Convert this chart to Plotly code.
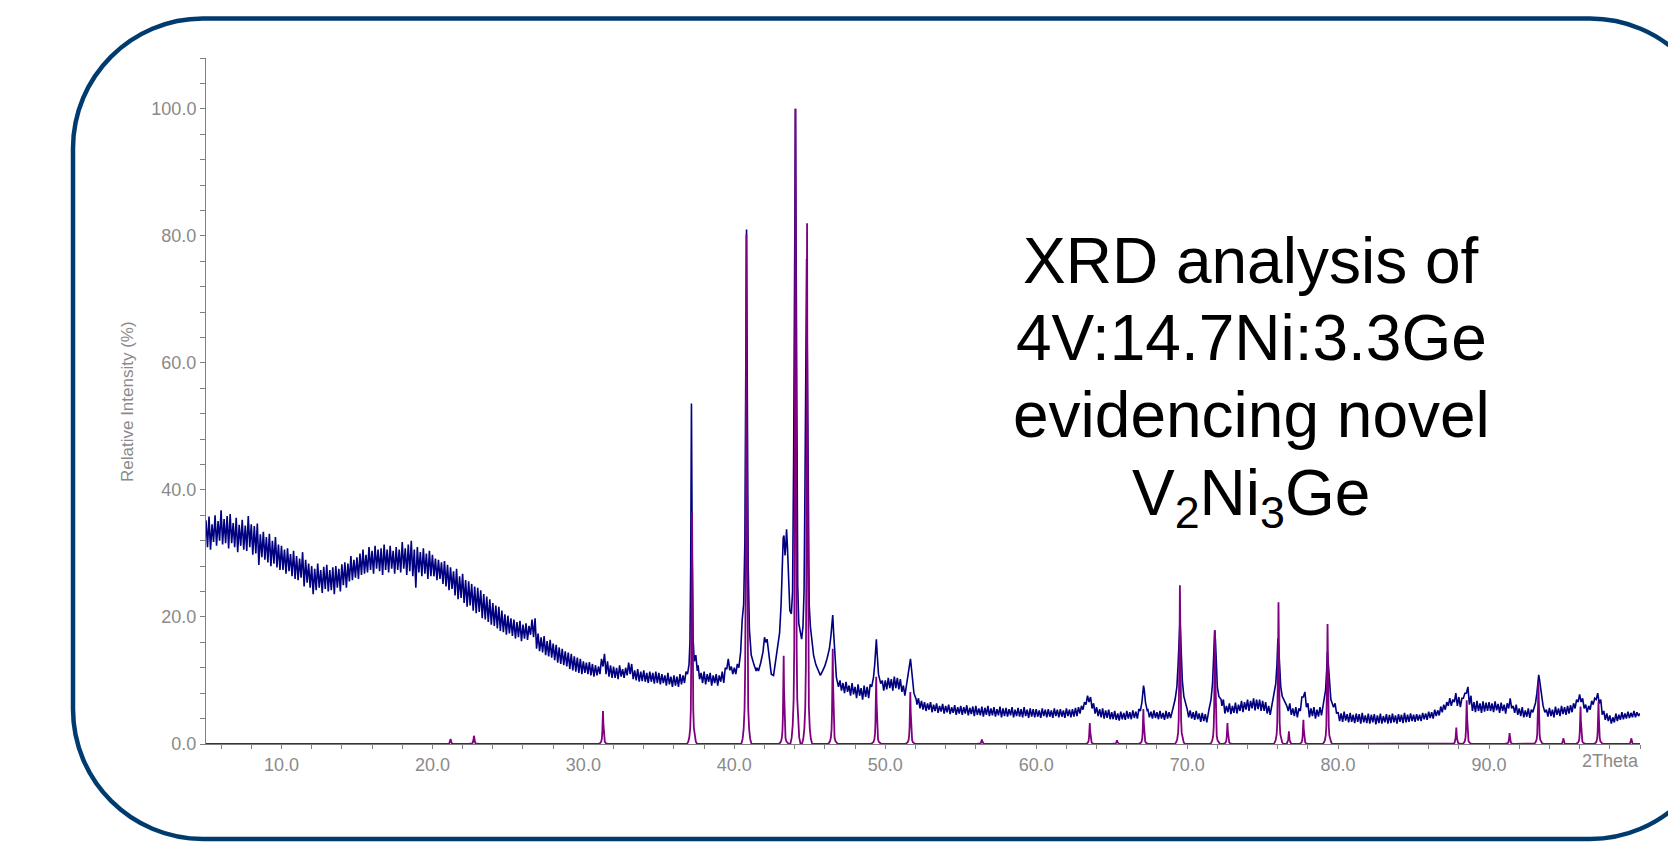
import plotly.graph_objects as go

# ---------------- data ----------------
# measured scan (navy): the noisy background is read as upper-edge readings at
# 5.0, 5.2, ... and lower-edge readings at 5.1, 5.3, ... (each row spans 5 deg)
scan_start = 5.0
scan_step = 0.2
lo_offset = 0.1
navy_hi_05 = [35.2, 35.8, 34.6, 36.0, 35.1, 36.8, 35.4, 35.9, 36.2, 34.8, 35.6, 34.5, 35.3, 34.4, 35.9, 34.6, 34.3, 34.7, 33.0, 33.4, 32.6, 33.1, 32.0, 32.6, 31.4]
navy_hi_10 = [31.2, 30.6, 30.8, 29.9, 30.4, 29.6, 29.2, 30.2, 29.0, 28.4, 28.0, 27.6, 28.4, 27.4, 27.9, 28.2, 27.4, 27.8, 28.0, 27.6, 28.3, 28.6, 28.4, 29.6, 29.0]
navy_hi_15 = [29.4, 30.0, 30.6, 29.8, 31.0, 30.4, 31.2, 30.6, 30.8, 31.4, 30.6, 31.2, 30.4, 31.0, 30.6, 31.8, 30.8, 31.4, 32.0, 30.6, 31.0, 30.2, 30.8, 30.0, 30.4]
navy_hi_20 = [29.8, 29.2, 29.0, 28.6, 28.8, 28.2, 27.8, 27.2, 27.6, 26.4, 26.8, 25.8, 25.6, 25.2, 24.8, 24.6, 24.2, 23.6, 23.2, 22.8, 22.2, 21.8, 21.6, 21.0, 20.4]
navy_hi_25 = [20.2, 19.8, 19.6, 19.2, 19.4, 18.8, 19.0, 18.6, 19.6, 19.8, 17.4, 16.8, 17.0, 16.2, 16.4, 15.8, 15.6, 15.2, 15.0, 14.6, 14.4, 14.2, 13.8, 13.6, 13.4]
navy_hi_30 = [13.0, 12.8, 12.9, 12.6, 12.4, 12.2, 13.4, 14.2, 13.0, 12.4, 12.2, 12.0, 12.4, 11.8, 12.0, 12.8, 12.6, 11.6, 11.8, 11.4, 11.6, 11.2, 11.4, 11.2, 11.4]
navy_hi_35 = [11.2, 11.0, 10.8, 11.2, 10.6, 10.8, 10.6, 11.0, 10.8, 11.4, 12.5, 45.0, 13.0, 12.4, 11.2, 11.4, 11.0, 11.2, 10.8, 11.0, 10.8, 11.4, 12.0, 13.4, 12.2]
navy_hi_40 = [12.0, 12.6, 14.0, 20.0, 60.0, 18.0, 13.0, 12.0, 12.0, 14.0, 16.5, 15.0, 11.0, 11.0, 14.0, 17.5, 28.0, 31.0, 27.0, 20.5, 70.0, 30.0, 18.0, 20.0, 70.0]
navy_hi_45 = [18.5, 15.0, 12.5, 11.5, 11.0, 12.3, 14.0, 17.0, 18.0, 10.5, 10.0, 9.6, 9.8, 9.2, 9.6, 9.0, 9.4, 8.8, 9.2, 9.0, 9.4, 10.5, 16.0, 11.0, 10.0]
navy_hi_50 = [10.0, 10.4, 10.2, 10.6, 10.4, 10.2, 9.2, 9.5, 12.5, 10.0, 7.5, 7.2, 6.8, 6.6, 6.4, 6.6, 6.2, 6.4, 6.0, 6.3, 6.0, 6.2, 5.8, 6.1, 5.8]
navy_hi_55 = [6.0, 5.8, 6.1, 5.7, 5.9, 6.0, 5.6, 5.9, 5.7, 6.0, 5.6, 5.8, 5.5, 5.9, 5.6, 5.7, 5.5, 5.8, 5.4, 5.7, 5.5, 5.8, 5.4, 5.6, 5.5]
navy_hi_60 = [5.5, 5.3, 5.6, 5.4, 5.5, 5.3, 5.6, 5.4, 5.5, 5.3, 5.6, 5.4, 5.5, 5.7, 5.8, 6.0, 6.6, 7.6, 7.4, 6.4, 5.8, 5.5, 5.6, 5.3, 5.4]
navy_hi_65 = [5.0, 5.2, 4.8, 5.1, 4.9, 5.2, 5.0, 5.3, 5.1, 5.5, 6.5, 7.5, 5.4, 5.1, 5.3, 5.0, 5.2, 4.9, 5.2, 5.0, 5.4, 7.0, 12.0, 15.0, 7.0]
navy_hi_70 = [5.5, 5.3, 5.0, 5.2, 4.8, 4.9, 4.7, 5.0, 7.0, 17.0, 9.0, 7.0, 7.0, 6.0, 6.4, 6.0, 6.5, 6.2, 6.8, 6.6, 7.0, 6.8, 7.2, 7.0, 7.0]
navy_hi_75 = [6.8, 6.6, 6.0, 6.0, 9.5, 16.0, 9.0, 7.0, 6.2, 6.4, 5.6, 5.8, 5.6, 7.4, 8.2, 6.4, 5.6, 5.8, 5.4, 5.8, 6.8, 11.0, 13.0, 7.0, 6.4]
navy_hi_80 = [5.0, 4.8, 5.1, 4.7, 4.9, 4.6, 4.8, 4.7, 4.9, 4.5, 4.8, 4.6, 4.7, 4.5, 4.8, 4.4, 4.7, 4.6, 4.8, 4.5, 4.7, 4.6, 4.9, 4.6, 4.8]
navy_hi_85 = [4.6, 4.7, 4.6, 4.9, 4.8, 5.1, 5.0, 5.4, 5.3, 5.9, 6.2, 6.6, 7.2, 7.0, 8.0, 7.4, 7.2, 8.0, 9.0, 7.6, 6.6, 6.8, 6.4, 6.7, 6.5]
navy_hi_90 = [6.6, 6.4, 6.7, 6.3, 6.5, 6.2, 6.4, 7.2, 6.0, 6.2, 5.6, 5.8, 5.3, 5.6, 5.4, 6.5, 9.5, 8.0, 6.0, 5.4, 5.7, 5.4, 5.9, 5.6, 6.0]
navy_hi_95 = [5.8, 6.0, 6.1, 6.4, 7.0, 7.8, 7.2, 6.2, 6.0, 6.8, 7.2, 8.0, 7.0, 5.2, 4.8, 4.5, 4.2, 4.8, 4.6, 5.0, 4.8, 5.1, 4.9, 5.2, 5.0]
navy_hi_100 = [4.8]

navy_lo_05 = [31.0, 30.6, 31.8, 31.2, 32.0, 31.4, 31.6, 30.8, 31.6, 31.0, 30.2, 31.2, 30.6, 30.4, 31.0, 29.8, 30.0, 28.2, 29.4, 29.0, 28.6, 28.0, 28.4, 27.8, 27.4]
navy_lo_10 = [27.4, 26.8, 27.2, 26.4, 26.0, 25.8, 26.2, 24.8, 25.4, 24.6, 23.6, 24.2, 24.6, 23.8, 24.4, 24.0, 24.2, 23.6, 24.6, 24.0, 25.0, 24.6, 25.6, 25.8, 26.2]
navy_lo_15 = [26.0, 26.6, 26.8, 27.0, 27.4, 26.8, 27.6, 27.2, 26.6, 27.4, 27.0, 27.6, 26.8, 27.4, 27.0, 27.6, 26.6, 27.2, 26.4, 24.6, 27.0, 26.4, 26.8, 26.0, 26.4]
navy_lo_20 = [26.4, 25.8, 26.0, 25.2, 24.8, 24.2, 24.4, 23.4, 22.8, 23.0, 22.2, 21.6, 21.8, 21.0, 20.6, 20.8, 19.8, 19.6, 19.2, 18.8, 18.6, 18.2, 17.8, 17.6, 17.2]
navy_lo_25 = [17.4, 17.0, 16.6, 16.8, 16.2, 16.6, 16.4, 17.2, 16.8, 15.0, 14.6, 14.4, 14.0, 13.8, 13.6, 13.2, 12.8, 12.6, 12.4, 12.2, 11.8, 11.6, 11.4, 11.2, 11.0]
navy_lo_30 = [11.2, 11.0, 10.8, 10.6, 10.8, 11.0, 12.2, 11.0, 10.6, 10.4, 10.4, 10.2, 10.6, 10.4, 10.8, 11.0, 10.2, 10.0, 9.8, 9.9, 9.8, 9.6, 9.8, 9.5, 9.6]
navy_lo_35 = [9.4, 9.6, 9.2, 9.4, 9.0, 9.2, 9.0, 9.4, 9.6, 10.2, 20.0, 25.0, 13.0, 10.2, 9.6, 9.4, 9.8, 9.2, 9.6, 9.2, 9.8, 9.6, 11.8, 11.6, 11.0]
navy_lo_40 = [11.0, 13.0, 17.0, 40.0, 30.0, 15.0, 12.5, 12.0, 13.0, 16.0, 16.0, 12.0, 11.0, 12.0, 16.0, 22.0, 31.0, 26.0, 21.0, 60.0, 22.0, 17.0, 22.0, 60.0, 30.0]
navy_lo_45 = [16.0, 13.0, 12.0, 11.0, 11.5, 13.0, 15.0, 19.0, 14.0, 9.0, 8.4, 8.0, 8.2, 7.6, 7.8, 7.2, 7.6, 7.0, 7.4, 7.2, 9.0, 12.5, 13.0, 9.5, 8.4]
navy_lo_50 = [8.6, 8.8, 8.4, 8.8, 8.6, 8.2, 7.6, 11.0, 13.0, 8.5, 6.2, 5.6, 5.4, 5.2, 5.4, 5.0, 5.2, 4.9, 5.1, 4.8, 5.0, 4.7, 4.9, 4.6, 4.8]
navy_lo_55 = [4.6, 4.8, 4.5, 4.7, 4.4, 4.6, 4.5, 4.3, 4.6, 4.4, 4.5, 4.3, 4.5, 4.2, 4.4, 4.3, 4.5, 4.2, 4.4, 4.3, 4.2, 4.4, 4.1, 4.3, 4.2]
navy_lo_60 = [4.3, 4.1, 4.4, 4.2, 4.3, 4.1, 4.4, 4.2, 4.3, 4.1, 4.4, 4.2, 4.3, 4.4, 4.8, 5.4, 6.2, 6.6, 5.6, 4.8, 4.4, 4.2, 4.0, 4.1, 3.9]
navy_lo_65 = [3.9, 3.8, 3.7, 3.9, 3.8, 4.0, 3.9, 4.1, 4.0, 5.0, 8.0, 7.0, 4.2, 4.0, 4.1, 3.9, 4.0, 3.8, 4.0, 4.1, 5.5, 9.0, 18.0, 11.0, 6.5]
navy_lo_70 = [4.2, 4.0, 3.8, 3.9, 3.5, 3.6, 3.4, 6.0, 11.0, 15.0, 8.0, 6.0, 4.8, 5.0, 4.7, 4.9, 4.8, 5.2, 5.0, 5.4, 5.2, 5.6, 5.3, 5.5, 5.2]
navy_lo_75 = [5.2, 4.8, 4.6, 7.0, 11.0, 13.0, 7.5, 6.8, 5.2, 4.6, 4.4, 4.2, 5.2, 7.4, 5.8, 4.2, 4.4, 4.0, 4.3, 4.5, 7.0, 14.0, 9.0, 5.8, 4.8]
navy_lo_80 = [3.6, 3.5, 3.7, 3.4, 3.5, 3.3, 3.5, 3.2, 3.4, 3.3, 3.2, 3.4, 3.1, 3.3, 3.2, 3.4, 3.2, 3.3, 3.4, 3.2, 3.5, 3.3, 3.4, 3.5, 3.6]
navy_lo_85 = [3.5, 3.7, 3.6, 3.9, 3.8, 4.1, 4.0, 4.4, 4.5, 5.0, 5.4, 6.0, 6.0, 6.6, 6.0, 5.8, 7.2, 8.0, 6.2, 5.2, 5.0, 5.2, 4.9, 5.1, 5.2]
navy_lo_90 = [5.2, 5.0, 5.3, 4.9, 5.2, 4.8, 5.6, 5.6, 4.9, 4.6, 4.4, 4.2, 4.3, 4.1, 5.0, 7.0, 10.5, 7.0, 5.5, 4.3, 4.4, 4.2, 4.6, 4.4, 4.7]
navy_lo_95 = [4.6, 4.8, 5.0, 5.6, 6.6, 6.6, 5.6, 5.0, 5.4, 6.2, 7.0, 6.4, 4.6, 3.8, 3.6, 3.2, 3.4, 3.6, 3.8, 3.9, 4.0, 4.1, 4.2, 4.2, 4.4]

# measured scan (navy): finely read points across the sharp reflections
peak_37_x = [36.9, 37.0, 37.06, 37.11, 37.16, 37.21, 37.27, 37.35, 37.45, 37.55]
peak_37_y = [11.0, 12.5, 16.0, 28.0, 53.6, 30.0, 16.5, 13.0, 14.0, 11.5]
peak_41_x = [40.3, 40.42, 40.52, 40.62, 40.7, 40.76, 40.81, 40.86, 40.92, 41.0, 41.12, 41.3, 41.45]
peak_41_y = [12.0, 14.5, 19.5, 22.0, 32.0, 60.0, 81.0, 55.0, 28.0, 18.0, 14.0, 12.5, 11.5]
peak_44_x = [41.6, 41.75, 41.9, 42.0, 42.08, 42.17, 42.3, 42.45, 42.6, 42.75, 42.9, 43.0, 43.1, 43.18,
             43.24, 43.29, 43.36, 43.42, 43.46, 43.52, 43.6, 43.68, 43.78, 43.86, 43.93, 43.98, 44.02,
             44.05, 44.09, 44.14, 44.2, 44.27, 44.36, 44.46, 44.55, 44.62, 44.68, 44.74, 44.79, 44.84,
             44.9, 44.96, 45.04, 45.14, 45.25, 45.4, 45.55, 45.7, 45.85, 46.0, 46.15, 46.3, 46.4, 46.47,
             46.52, 46.58, 46.66, 46.76, 46.9]
peak_44_y = [11.5, 12.8, 14.5, 16.8, 16.0, 16.5, 13.5, 11.0, 10.8, 13.5, 15.5, 17.5, 22.0, 30.0,
             32.5, 32.8, 29.7, 31.5, 33.8, 31.0, 26.0, 21.0, 20.5, 24.0, 45.0, 75.0, 97.0,
             100.0, 80.0, 45.0, 25.0, 19.0, 18.0, 16.5, 18.5, 24.0, 40.0, 65.0, 76.4, 60.0,
             35.0, 22.0, 18.5, 16.0, 14.0, 12.5, 11.5, 10.8, 11.5, 12.3, 13.5, 15.0, 17.0, 19.5,
             20.3, 17.5, 13.5, 10.5, 9.0]
peak_49_x = [49.1, 49.22, 49.3, 49.36, 49.41, 49.47, 49.55, 49.7]
peak_49_y = [9.0, 10.5, 12.5, 15.0, 16.5, 14.0, 11.0, 9.5]
peak_52_x = [51.35, 51.47, 51.56, 51.62, 51.67, 51.73, 51.8, 51.9, 52.05]
peak_52_y = [8.5, 10.0, 11.5, 13.0, 13.4, 12.0, 10.0, 8.0, 7.0]
peak_67_x = [66.9, 67.0, 67.06, 67.11, 67.16, 67.24, 67.35]
peak_67_y = [5.2, 6.5, 8.0, 9.2, 8.5, 6.5, 5.3]
peak_69_x = [69.05, 69.2, 69.32, 69.4, 69.47, 69.53, 69.6, 69.68, 69.78, 69.9, 70.0]
peak_69_y = [5.5, 7.0, 9.0, 12.5, 17.0, 19.7, 15.0, 10.0, 7.5, 6.5, 5.5]
peak_72_x = [71.45, 71.58, 71.68, 71.76, 71.82, 71.87, 71.93, 72.0, 72.1, 72.25]
peak_72_y = [5.5, 7.0, 9.5, 14.0, 17.9, 16.5, 12.0, 9.0, 7.5, 7.0]
peak_76_x = [75.6, 75.75, 75.87, 75.95, 76.01, 76.06, 76.12, 76.2, 76.3, 76.45, 76.6]
peak_76_y = [6.0, 7.5, 9.5, 12.5, 16.6, 15.5, 12.0, 9.0, 7.5, 6.8, 6.0]
peak_79_x = [78.95, 79.08, 79.17, 79.24, 79.29, 79.34, 79.42, 79.52, 79.7]
peak_79_y = [5.2, 6.8, 8.5, 11.5, 14.5, 13.0, 9.5, 7.0, 5.8]
peak_93_x = [92.95, 93.08, 93.17, 93.24, 93.29, 93.35, 93.45, 93.58, 93.7]
peak_93_y = [5.5, 6.5, 8.0, 9.5, 10.9, 10.0, 8.0, 6.0, 5.0]

# reference pattern (purple): reflection positions (2Theta) and relative intensities
ref_pos = [21.2, 22.75, 31.3, 37.2, 40.8, 43.27, 44.05, 44.82, 46.52, 49.4, 51.66, 56.4,
           63.55, 65.35, 67.1, 69.52, 71.84, 72.67, 76.05, 76.74, 77.7, 79.3, 87.83, 88.52,
           91.36, 93.27, 94.92, 96.06, 97.25, 99.42]
ref_int = [0.8, 1.3, 5.2, 36.4, 80.2, 13.9, 100.0, 82.0, 15.0, 10.6, 8.2, 0.7,
           3.3, 0.6, 5.5, 25.0, 17.9, 3.3, 22.3, 2.0, 3.8, 18.9, 2.6, 6.9,
           1.7, 9.8, 0.9, 5.9, 6.7, 0.9]

# axis ticks
x_tick_vals = [10, 20, 30, 40, 50, 60, 70, 80, 90]
x_tick_text = ["10.0", "20.0", "30.0", "40.0", "50.0", "60.0", "70.0", "80.0", "90.0"]
y_tick_vals = [0, 20, 40, 60, 80, 100]
y_tick_text = ["0.0", "20.0", "40.0", "60.0", "80.0", "100.0"]

title_lines = ["XRD analysis of", "4V:14.7Ni:3.3Ge", "evidencing novel",
               "V<sub>2</sub>Ni<sub>3</sub>Ge"]

# ---------------- build traces ----------------
hi_y = (navy_hi_05 + navy_hi_10 + navy_hi_15 + navy_hi_20 + navy_hi_25 + navy_hi_30 +
        navy_hi_35 + navy_hi_40 + navy_hi_45 + navy_hi_50 + navy_hi_55 + navy_hi_60 +
        navy_hi_65 + navy_hi_70 + navy_hi_75 + navy_hi_80 + navy_hi_85 + navy_hi_90 +
        navy_hi_95 + navy_hi_100)
lo_y = (navy_lo_05 + navy_lo_10 + navy_lo_15 + navy_lo_20 + navy_lo_25 + navy_lo_30 +
        navy_lo_35 + navy_lo_40 + navy_lo_45 + navy_lo_50 + navy_lo_55 + navy_lo_60 +
        navy_lo_65 + navy_lo_70 + navy_lo_75 + navy_lo_80 + navy_lo_85 + navy_lo_90 +
        navy_lo_95)
bg = [(round(scan_start + scan_step * i, 2), y) for i, y in enumerate(hi_y)]
bg += [(round(scan_start + lo_offset + scan_step * i, 2), y) for i, y in enumerate(lo_y)]

peaks = [(peak_37_x, peak_37_y), (peak_41_x, peak_41_y), (peak_44_x, peak_44_y),
         (peak_49_x, peak_49_y), (peak_52_x, peak_52_y), (peak_67_x, peak_67_y),
         (peak_69_x, peak_69_y), (peak_72_x, peak_72_y), (peak_76_x, peak_76_y),
         (peak_79_x, peak_79_y), (peak_93_x, peak_93_y)]
windows = [(min(px), max(px)) for px, _ in peaks]
pts = [(x, y) for x, y in bg if not any(lo <= x <= hi for lo, hi in windows)]
for px, py in peaks:
    pts += list(zip(px, py))
pts.sort()
navy_x = [p[0] for p in pts]
navy_y = [p[1] for p in pts]

# reference sticks drawn with a narrow line profile (style constant)
prof_dx = [-0.34, -0.25, -0.18, -0.12, -0.08, -0.05, -0.025, 0.0, 0.025, 0.05, 0.08, 0.12, 0.18, 0.25, 0.34]
prof_f = [0.0, 0.01, 0.03, 0.07, 0.15, 0.32, 0.62, 1.0, 0.62, 0.32, 0.15, 0.07, 0.03, 0.01, 0.0]
ref_x = [5.0]
ref_y = [0.0]
for c, h in zip(ref_pos, ref_int):
    for d, f in zip(prof_dx, prof_f):
        ref_x.append(c + d)
        ref_y.append(h * f)
ref_x.append(100.0)
ref_y.append(0.0)

# ---------------- figure ----------------
W, H = 1668, 846
ML, MR, MT, MB = 206, 28, 58, 102
PW, PH = W - ML - MR, H - MT - MB

def px2paper(px, py):
    return (px - ML) / PW, (MT + PH - py) / PH

GREY = "#8a8a8a"
AXC = "#7f7f7f"
FONT = "Liberation Sans, Arial, sans-serif"

fig = go.Figure()
fig.add_trace(go.Scatter(x=navy_x, y=navy_y, mode="lines",
                         line=dict(color="#000080", width=1.6), hoverinfo="skip"))
fig.add_trace(go.Scatter(x=ref_x, y=ref_y, mode="lines",
                         line=dict(color="#800080", width=1.8), hoverinfo="skip"))

# rounded border (pixel geometry converted to paper coords)
L, T, R, B, r = 73, 18.5, 1720, 839, 130
k = 0.5523 * r
segs = [("M", [(L + r, T)]), ("L", [(R - r, T)]),
        ("C", [(R - r + k, T), (R, T + r - k), (R, T + r)]), ("L", [(R, B - r)]),
        ("C", [(R, B - r + k), (R - r + k, B), (R - r, B)]), ("L", [(L + r, B)]),
        ("C", [(L + r - k, B), (L, B - r + k), (L, B - r)]), ("L", [(L, T + r)]),
        ("C", [(L, T + r - k), (L + r - k, T), (L + r, T)])]
path = ""
for cmd, ps in segs:
    path += cmd + " " + " ".join("%.5f,%.5f" % px2paper(a, b) for a, b in ps) + " "
path += "Z"

fig.add_shape(type="path", path=path, xref="paper", yref="paper",
              line=dict(color="#003B70", width=4.5), layer="below")

annotations = []
line_centres = [261, 338, 414.5, 497]
for txt, yc in zip(title_lines, line_centres):
    xp, yp = px2paper(1251, yc)
    annotations.append(dict(text=txt, x=xp, y=yp, xref="paper", yref="paper",
                            xanchor="center", yanchor="middle", showarrow=False,
                            font=dict(family=FONT, size=64, color="#000000")))
xp, yp = px2paper(127, 402)
annotations.append(dict(text="Relative Intensity (%)", x=xp, y=yp, xref="paper", yref="paper",
                        xanchor="center", yanchor="middle", showarrow=False, textangle=-90,
                        font=dict(family=FONT, size=17, color=GREY)))
xp, yp = px2paper(1641, 761)
annotations.append(dict(text="2Theta", x=xp, y=yp, xref="paper", yref="paper",
                        xanchor="right", yanchor="middle", showarrow=False,
                        font=dict(family=FONT, size=18, color=GREY)))

fig.update_layout(
    width=W, height=H,
    margin=dict(l=ML, r=MR, t=MT, b=MB, pad=0),
    paper_bgcolor="white", plot_bgcolor="white",
    showlegend=False,
    font=dict(family=FONT),
    annotations=annotations,
    xaxis=dict(range=[5, 100], showgrid=False, zeroline=False, showline=True,
               linecolor=AXC, linewidth=1, ticks="outside", ticklen=4, tickwidth=1,
               tickcolor=AXC, tickmode="array", tickvals=x_tick_vals, ticktext=x_tick_text,
               tickfont=dict(family=FONT, size=18, color=GREY),
               minor=dict(tickmode="linear", tick0=0, dtick=2, ticks="outside",
                          ticklen=4, tickcolor=AXC, tickwidth=1, showgrid=False)),
    yaxis=dict(range=[0, 108], showgrid=False, zeroline=False, showline=True,
               linecolor=AXC, linewidth=1, ticks="outside", ticklen=5, tickwidth=1,
               tickcolor=AXC, tickmode="array", tickvals=y_tick_vals, ticktext=y_tick_text,
               tickfont=dict(family=FONT, size=18, color=GREY),
               minor=dict(tickmode="linear", tick0=0, dtick=4, ticks="outside",
                          ticklen=5, tickcolor=AXC, tickwidth=1, showgrid=False)),
)

fig.write_html("out.html", include_plotlyjs=True, full_html=True,
               config={"displayModeBar": False},
               post_script="document.body.style.margin='0';document.body.style.overflow='hidden';")
